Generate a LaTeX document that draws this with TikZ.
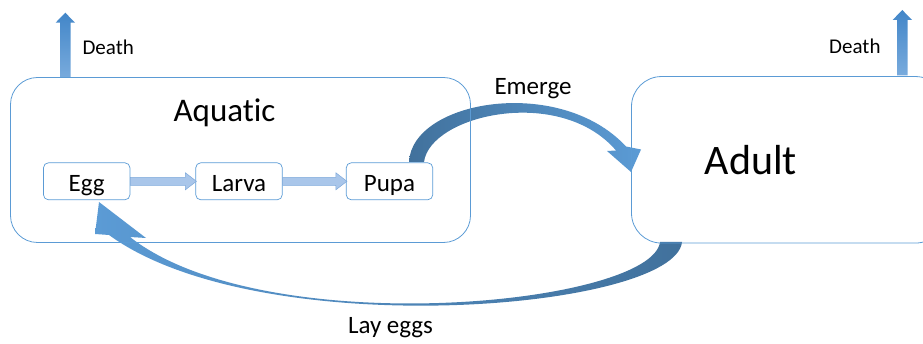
\documentclass[tikz,border=0pt]{standalone}
\usepackage{fontspec}
\setmainfont{Carlito}[Ligatures=NoCommon]
\usetikzlibrary{calc}
\definecolor{boxline}{HTML}{5B9BD5}
\definecolor{arrowlight}{HTML}{A9C6EA}
\definecolor{arrowedge}{HTML}{7EA9DB}
\definecolor{curvedark}{HTML}{41719C}
\definecolor{curvelight}{HTML}{5B9BD5}
\definecolor{deathtop}{HTML}{4286C8}
\definecolor{deathbottom}{HTML}{79ABDD}
% #1 = x of the shaft, #2 = y of the tip, #3 = y of the foot
\newcommand{\deatharrow}[3]{%
  \shade[top color=deathtop,bottom color=deathbottom]
    (#1-5.3,#3) -- (#1-5.3,#2+10) -- (#1-9.7,#2+10) -- (#1,#2)
    -- (#1+9.7,#2+10) -- (#1+5.3,#2+10) -- (#1+5.3,#3) -- cycle;}
% block arrow between two cells
\newcommand{\blockarrow}[2]{%
  \path[blockarr] ($(#1.east)+(0,-4)$) -- ($(#2.west)+(-10,-4)$)
    -- ($(#2.west)+(-10,-8.5)$) -- ($(#2.west)+(1,0)$) -- ($(#2.west)+(-10,8.5)$)
    -- ($(#2.west)+(-10,4)$) -- ($(#1.east)+(0,4)$) -- cycle;}

\begin{document}
\begin{tikzpicture}[x=1pt,y=-1pt,
    stage/.style={draw=boxline,line width=0.8pt,rounded corners=27pt,inner sep=0pt},
    cell/.style={draw=boxline,line width=0.7pt,rounded corners=5pt,inner sep=0pt,
        minimum width=86.5pt,minimum height=37pt,text height=20pt,text depth=0pt,
        font=\fontsize{25}{25}\selectfont},
    blockarr/.style={fill=arrowlight,draw=arrowedge,line width=0.5pt},
    lbl/.style={anchor=base,font=\fontsize{25}{25}\selectfont},
    deathlbl/.style={anchor=base west,font=\fontsize{21}{21}\selectfont}]
\clip (0,0) rectangle (923,344);

\deatharrow{65.3}{12.7}{78}
\deatharrow{902.3}{10}{75.5}
\node[deathlbl] (deathleft) at (79,55) {Death};
\node[deathlbl] (deathright) at (825.7,53.3) {Death};

% emerge
\shade[left color=curvedark,right color=curvelight]
  (409,162) .. controls (412,100) and (560,75) .. (626,146.5)
  -- (641,149.5) -- (631,172) -- (607,151) -- (616,150.5)
  .. controls (560,85) and (430,115) .. (424,162) -- cycle;
\node[lbl] (emergelbl) at (533,95) {Emerge};

% lay eggs
\shade[left color=curvelight,right color=curvedark]
  (660,242) .. controls (652,305) and (265,343) .. (130,237)
  -- (146,238) -- (99,202) -- (95,234) -- (109,235)
  .. controls (260,345) and (675,310) .. (682,242) -- cycle;
\node[lbl] (laylbl) at (390.5,334) {Lay eggs};

\node[stage,minimum width=460pt,minimum height=165pt] (aquatic) at (240.5,160) {};
\node[lbl,font=\fontsize{33}{33}\selectfont] (aquatictitle) at (224.5,122) {Aquatic};
\node[stage,rounded corners=30pt,minimum width=314pt,minimum height=166.5pt] (adult) at (788.5,159.8) {};
\node[lbl,font=\fontsize{42}{42}\selectfont] (adulttitle) at (751,175) {Adult};

\node[cell] (egg) at (86.7,181.3) {Egg};
\node[cell] (larva) at (239,181.3) {Larva};
\node[cell] (pupa) at (389.5,181.3) {Pupa};
\blockarrow{egg}{larva}
\blockarrow{larva}{pupa}
\end{tikzpicture}
\end{document}
